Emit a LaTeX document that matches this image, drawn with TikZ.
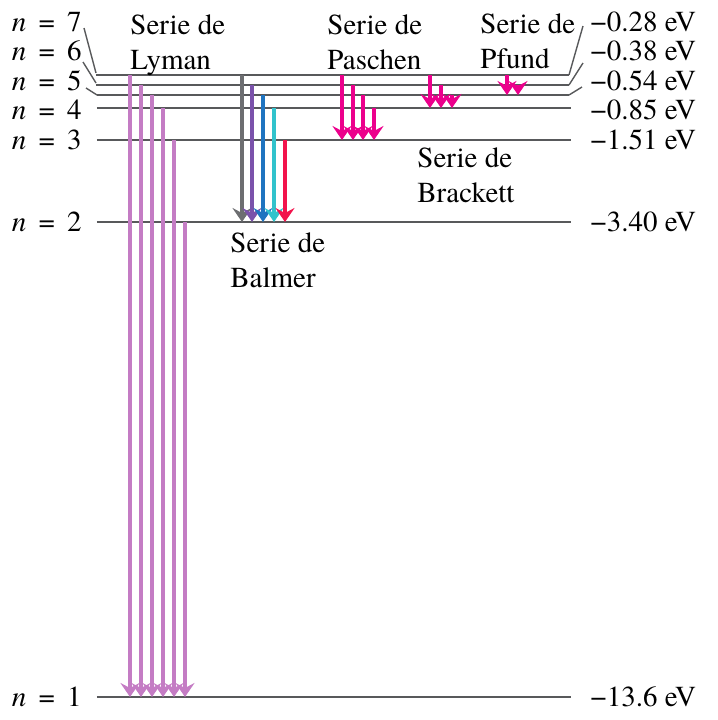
\documentclass[tikz,border=0pt]{standalone}
\usepackage{fontspec}
\setmainfont{texgyretermes}[
  Extension=.otf,
  UprightFont=*-regular,
  ItalicFont=*-italic,
  BoldFont=*-bold]
\usetikzlibrary{arrows.meta}
\definecolor{levelgray}{HTML}{58595B}
\definecolor{lymancol}{HTML}{C47CC4}
\definecolor{balgray}{HTML}{6D6E71}
\definecolor{balviolet}{HTML}{7B52AB}
\definecolor{balblue}{HTML}{1F74C0}
\definecolor{balcyan}{HTML}{31C3CC}
\definecolor{balred}{HTML}{F2134C}
\definecolor{ircol}{HTML}{EC008C}
\newcommand{\nlab}[1]{\textit{n}\hspace{0.42em}=\hspace{0.42em}#1}

\begin{document}
\begin{tikzpicture}[
  x=0.5pt, y=-0.5pt,
  font=\rmfamily\fontsize{14.5}{17.5}\selectfont,
  level/.style={draw=levelgray, line width=1.1pt},
  leader/.style={draw=levelgray, line width=0.7pt},
  trans/.style={line width=2.4pt, -{Stealth[length=7pt, width=9.5pt, inset=2.5pt]}},
  serie/.style={anchor=north west, align=left, inner sep=0pt},
  nlabel/.style={anchor=east, inner sep=0pt},
  evlabel/.style={anchor=west, inner sep=0pt}
]
\useasboundingbox (0,0) rectangle (718,720);

% ---- energy levels n = 1..4 (straight) ----
\foreach \n/\y/\ly/\ev in {4/108/110/0.85, 3/140/140/1.51, 2/222/222/3.40, 1/697/697/13.6}
{
  \draw[level] (97,\y) -- (571,\y);
  \node[nlabel] (n\n) at (82,\ly) {\nlab{\n}};
  \node[evlabel] (e\n) at (590,\ly) {−\ev~eV};
}

% ---- crowded levels n = 5..7 with leaders ----
\draw[leader] (84,28) -- (96,73);
\draw[leader] (83,62) -- (96,83);
\draw[leader] (86,88) -- (97,95);
\draw[level] (96,75) -- (569,75);
\draw[level] (96,85) -- (569,85);
\draw[level] (97,95) -- (569,95);
\draw[leader] (569,75) -- (583,26);
\draw[leader] (569,85) -- (583,63);
\draw[leader] (569,95) -- (582,87);
\foreach \n/\ly/\ev in {7/22/0.28, 6/51/0.38, 5/81/0.54}
{
  \node[nlabel] (n\n) at (82,\ly) {\nlab{\n}};
  \node[evlabel] (e\n) at (590,\ly) {−\ev~eV};
}

% ---- Lyman (to n = 1) ----
\foreach \x/\y in {130/75, 141/85, 152/95, 163/108, 174/140, 185/222}
  \draw[trans, lymancol] (\x,\y) -- (\x,697);

% ---- Balmer (to n = 2) ----
\foreach \x/\y/\c in {242/75/balgray, 252/85/balviolet, 263/95/balblue, 274/108/balcyan, 285/140/balred}
  \draw[trans, \c] (\x,\y) -- (\x,222);

% ---- Paschen, Brackett, Pfund ----
\foreach \x/\y in {342/75, 353/85, 363/95, 374/108}
  \draw[trans, ircol] (\x,\y) -- (\x,140);
\foreach \x/\y in {430/75, 441/85, 452/95}
  \draw[trans, ircol] (\x,\y) -- (\x,108);
\foreach \x/\y in {507/75, 518/85}
  \draw[trans, ircol] (\x,\y) -- (\x,95);

% ---- series names ----
\node[serie] (lyman)    at (130,14)  {Serie de\\Lyman};
\node[serie] (paschen)  at (327,14)  {Serie de\\Paschen};
\node[serie] (pfund)    at (480,13)  {Serie de\\Pfund};
\node[serie] (brackett) at (417,147) {Serie de\\Brackett};
\node[serie] (balmer)   at (230,232) {Serie de\\Balmer};
\end{tikzpicture}
\end{document}
